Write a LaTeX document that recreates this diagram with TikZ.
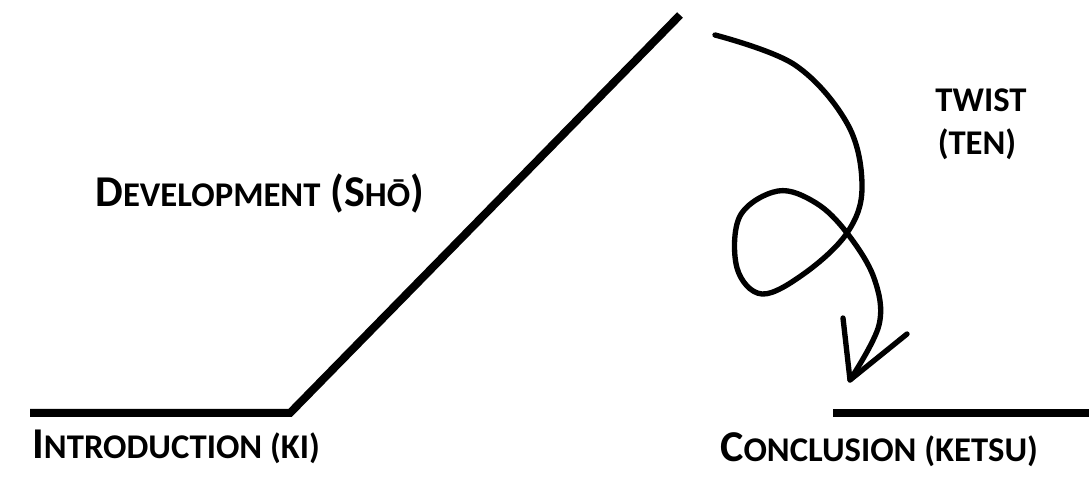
\documentclass[tikz,border=0pt]{standalone}
\usepackage{fontspec}
\setmainfont{Carlito}
\usetikzlibrary{arrows.meta}

% fake small caps: lowercase part set as smaller capitals
\newcommand{\bigc}[1]{{\fontsize{33}{35}\selectfont #1}}
\newcommand{\smallc}[1]{{\fontsize{26}{28}\selectfont #1}}

\begin{document}
\begin{tikzpicture}[
  x=0.75pt, y=-0.75pt,
  every node/.style={font=\bfseries, inner sep=0pt},
  stage/.style={line width=6pt, line join=miter},
  twistline/.style={line width=4pt, line cap=round, line join=round}
]
  \useasboundingbox (0,0) rectangle (1089,491);

  \coordinate (kiL) at (30,413);
  \coordinate (kiR) at (290,413);
  \coordinate (peak) at (680,15);
  \coordinate (ketsuL) at (833,413);
  \coordinate (ketsuR) at (1089,413);
  \coordinate (tw0) at (715,35);
  \coordinate (tip) at (850,380);

  \draw[stage] (kiL) -- (kiR) -- (peak);
  \draw[stage] (ketsuL) -- (ketsuR);

  \draw[twistline] plot[smooth, tension=0.6] coordinates {
    (tw0) (795,65) (848,125) (862,188) (847,233) (805,273) (762,294)
    (737,268) (740,216) (778,191) (816,203) (847,233) (874,278) (879,325) (tip)};
  \draw[twistline] (843,318) -- (tip) -- (907,334);

  \node[anchor=base west] (ki) at (32,459) {\bigc{I}\smallc{NTRODUCTION (KI)}};
  \node[anchor=base west] (sho) at (95,207) {\bigc{D}\smallc{EVELOPMENT}\bigc{ (S}\smallc{HŌ}\bigc{)}};
  \node[anchor=base] (twist) at (981,112) {\smallc{TWIST}};
  \node[anchor=base] (ten) at (977,155) {\smallc{(TEN)}};
  \node[anchor=base west] (ketsu) at (720,461) {\bigc{C}\smallc{ONCLUSION (KETSU)}};
\end{tikzpicture}
\end{document}
